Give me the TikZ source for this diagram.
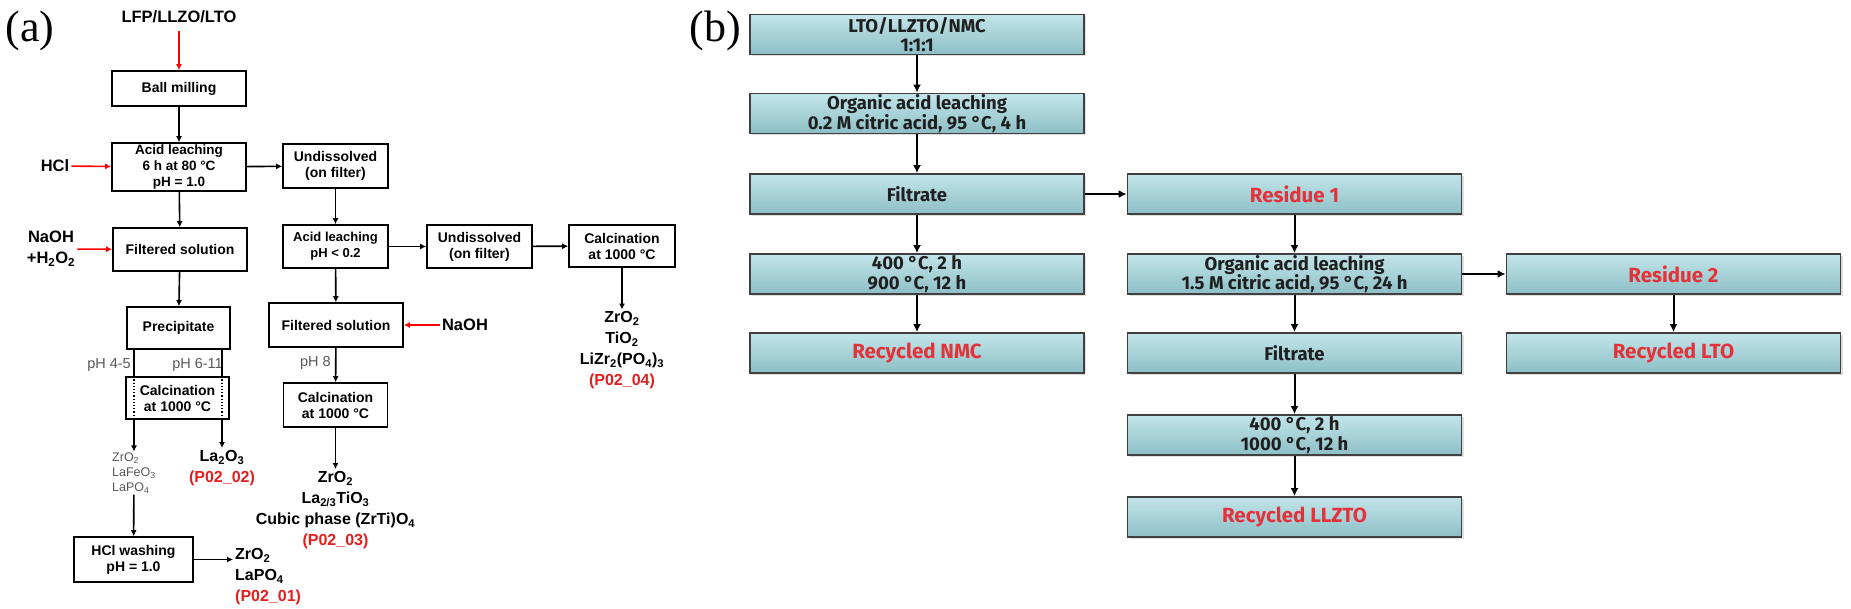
\documentclass[tikz,border=0pt]{standalone}
\usepackage{fontspec}
\setmainfont{Liberation Serif}
\newfontfamily\arial{Liberation Sans}
\newfontfamily\dinfont{Fira Sans}
\usetikzlibrary{arrows.meta,shadows}
\definecolor{pred}{HTML}{E0201E}
\definecolor{bred}{HTML}{E3323A}
\definecolor{tealtop}{HTML}{C2E5EA}
\definecolor{tealbot}{HTML}{8DBFC6}
\newcommand{\lo}[1]{\textsubscript{#1}}

\begin{document}
\begin{tikzpicture}[x=1pt,y=-1pt,
    ar/.style={-{Latex[length=6pt,width=6pt]},line width=1.6pt},
    br/.style={-{Latex[length=8pt,width=8pt]},line width=2pt},
    abox/.style 2 args={draw,line width=1.6pt,fill=white,align=center,inner sep=1pt,
        minimum width=#1,minimum height=#2,font=\arial\bfseries\fontsize{14}{16}\selectfont},
    side/.style={align=center,inner sep=2pt,font=\arial\bfseries\fontsize{16.5}{21}\selectfont},
    prod/.style={align=center,inner sep=2pt,font=\arial\bfseries\fontsize{16}{21}\selectfont},
    phl/.style={inner sep=1pt,text=black!65,font=\arial\fontsize{14.5}{16}\selectfont},
    bbox/.style={draw=black!75,line width=1.8pt,top color=tealtop,bottom color=tealbot,
        minimum width=334,minimum height=40,inner xsep=1pt,inner ysep=0.5pt,align=center,text=black!88,
        drop shadow={shadow xshift=2pt,shadow yshift=-2pt,opacity=.25},
        font=\dinfont\bfseries\fontsize{18.5}{19.5}\selectfont},
    rtext/.style={text=bred,font=\dinfont\bfseries\fontsize{20.5}{22}\selectfont}]
    \useasboundingbox (0,0) rectangle (1851,609);

    \node[font=\fontsize{44}{44}\selectfont] (LA) at (30,31) {(a)};
    \node[side] (IN) at (179,17) {LFP/LLZO/LTO};
    \node[abox={134}{35}] (BM) at (179,88.5) {Ball milling};
    \node[abox={134}{48},font=\arial\bfseries\fontsize{13.5}{16}\selectfont] (AL1) at (179,167) {Acid leaching\\6 h at 80 °C\\pH = 1.0};
    \node[side] (HCL) at (55,166) {HCl};
    \node[abox={134}{43}] (FS1) at (180,249.5) {Filtered solution};
    \node[side] (NA1) at (51,249) {NaOH\\+H\lo{2}O\lo{2}};
    \node[abox={103}{42}] (PR) at (178.5,328) {Precipitate};
    \node[abox={103}{42}] (C1) at (177.5,398) {Calcination\\at 1000 °C};
    \node[align=left,inner sep=1pt,text=black!65,font=\arial\fontsize{12.5}{15}\selectfont] (G1) at (134,473) {ZrO\lo{2}\\LaFeO\lo{3}\\LaPO\lo{4}};
    \node[prod] (P2) at (222,468) {La\lo{2}O\lo{3}\\\textcolor{pred}{(P02\_02)}};
    \node[phl,anchor=east] (PH1) at (132,365) {pH 4-5};
    \node[phl,anchor=east] (PH2) at (224,365) {pH 6-11};
    \node[abox={119}{45}] (HW) at (133.5,559.5) {HCl washing\\pH = 1.0};
    \node[prod,align=left,anchor=west] (P1) at (233,577) {ZrO\lo{2}\\LaPO\lo{4}\\\textcolor{pred}{(P02\_01)}};
    \node[abox={105}{44}] (UD1) at (335.5,166) {Undissolved\\(on filter)};
    \node[abox={105}{43},font=\arial\bfseries\fontsize{13}{16}\selectfont] (AL2) at (335.5,246.5) {Acid leaching\\pH < 0.2};
    \node[abox={105}{43}] (UD2) at (479.5,246.5) {Undissolved\\(on filter)};
    \node[abox={106}{42}] (C3) at (622,246) {Calcination\\at 1000 °C};
    \node[prod] (P4) at (622,350.5) {ZrO\lo{2}\\TiO\lo{2}\\LiZr\lo{2}(PO\lo{4})\lo{3}\\\textcolor{pred}{(P02\_04)}};
    \node[abox={134}{44}] (FS2) at (336,325) {Filtered solution};
    \node[side] (NA2) at (465,325) {NaOH};
    \node[phl,anchor=east] (PH3) at (332,363) {pH 8};
    \node[abox={104}{44}] (C2) at (335.5,405) {Calcination\\at 1000 °C};
    \node[prod] (P3) at (335.5,510) {ZrO\lo{2}\\La\lo{2/3}TiO\lo{3}\\Cubic phase (ZrTi)O\lo{4}\\\textcolor{pred}{(P02\_03)}};

    \draw [ar,red,shorten <=6pt] (IN) -- (BM);
    \draw [ar] (BM) -- (AL1);
    \draw [ar,red] (HCL) -- (AL1);
    \draw [ar] (AL1) -- (UD1);
    \draw [ar] (AL1) -- (FS1);
    \draw [ar,red] (NA1) -- (FS1);
    \draw [ar] (FS1) -- (PR);
    \draw [line width=1.6pt] (PR.south -| G1) -- (C1.north -| G1);
    \draw [line width=1.6pt] (PR.south -| P2) -- (C1.north -| P2);
    \draw [dotted,line width=1.2pt] (C1.north -| G1) -- (C1.south -| G1);
    \draw [dotted,line width=1.2pt] (C1.north -| P2) -- (C1.south -| P2);
    \draw [ar] (C1.south -| G1) -- (G1);
    \draw [ar] (C1.south -| P2) -- (P2);
    \draw [ar] (G1) -- (HW);
    \draw [ar] (HW) -- (HW -| P1.west);
    \draw [ar] (UD1) -- (AL2);
    \draw [ar] (AL2) -- (UD2);
    \draw [ar] (UD2) -- (C3);
    \draw [ar] (C3) -- (P4);
    \draw [ar] (AL2) -- (FS2);
    \draw [ar,red] (NA2) -- (FS2);
    \draw [ar] (FS2) -- (C2);
    \draw [ar] (C2) -- (P3);

    \node[font=\fontsize{44}{44}\selectfont] (LB) at (715,31) {(b)};
    \node[bbox] (B1) at (917,34.5) {LTO/LLZTO/NMC\\1:1:1};
    \node[bbox] (B2) at (917,113.5) {Organic acid leaching\\0.2 M citric acid, 95 °C, 4 h};
    \node[bbox] (B3) at (917,194) {Filtrate};
    \node[bbox] (B4) at (917,274) {400 °C, 2 h\\900 °C, 12 h};
    \node[bbox,rtext] (B5) at (917,353) {Recycled NMC};
    \node[bbox,rtext] (M3) at (1294.5,194) {Residue 1};
    \node[bbox] (M4) at (1294.5,274) {Organic acid leaching\\1.5 M citric acid, 95 °C, 24 h};
    \node[bbox] (M5) at (1294.5,353) {Filtrate};
    \node[bbox] (M6) at (1294.5,435) {400 °C, 2 h\\1000 °C, 12 h};
    \node[bbox,rtext] (M7) at (1294.5,517) {Recycled LLZTO};
    \node[bbox,rtext] (R4) at (1673.5,274) {Residue 2};
    \node[bbox,rtext] (R5) at (1673.5,353) {Recycled LTO};

    \draw [br] (B1) -- (B2);
    \draw [br] (B2) -- (B3);
    \draw [br] (B3) -- (M3);
    \draw [br] (B3) -- (B4);
    \draw [br] (B4) -- (B5);
    \draw [br] (M3) -- (M4);
    \draw [br] (M4) -- (R4);
    \draw [br] (M4) -- (M5);
    \draw [br] (R4) -- (R5);
    \draw [br] (M5) -- (M6);
    \draw [br] (M6) -- (M7);
\end{tikzpicture}
\end{document}
